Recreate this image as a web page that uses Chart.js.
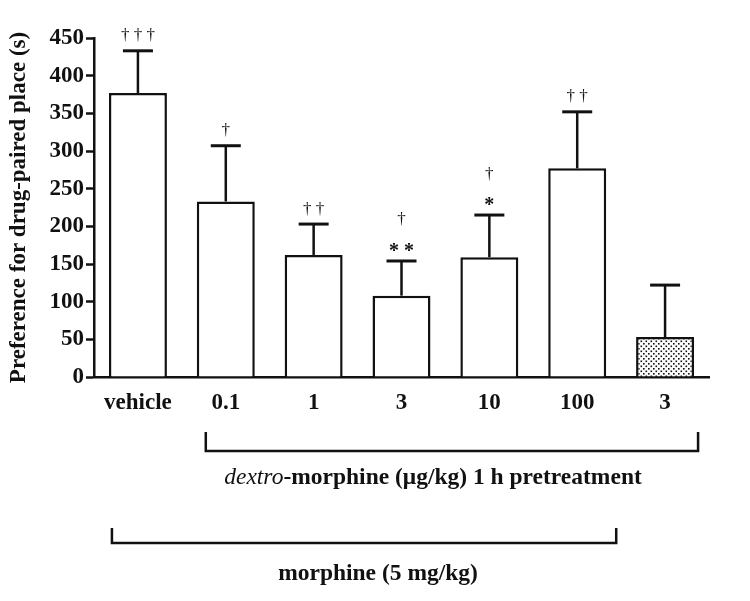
<!DOCTYPE html>
<html>
<head>
<meta charset="utf-8">
<script src="https://cdn.jsdelivr.net/npm/chart.js@4.4.0/dist/chart.umd.min.js"></script>
<style>
  body { margin: 0; background: #fff; }
  canvas { display: block; }
</style>
</head>
<body>
<canvas id="cppChart" width="750" height="601"></canvas>
<script>
var doseLabels = ["vehicle", "0.1", "1", "3", "10", "100", "3"];
var prefMeans = [377, 233, 162, 108, 159, 277, 53];
var prefErr = [56, 74, 41, 46, 56, 75, 69];
// significance marks, bottom line first
var sigMarks = [["\u2020 \u2020 \u2020"], ["\u2020"], ["\u2020 \u2020"], ["* *", "\u2020"], ["*", "\u2020"], ["\u2020 \u2020"], []];
var yTicks = [0, 50, 100, 150, 200, 250, 300, 350, 400, 450];

var serif = "'Liberation Serif', 'DejaVu Serif', serif";

// dotted fill for the last bar
function dotPattern() {
    var pc = document.createElement("canvas");
    pc.width = 5; pc.height = 5;
    var c = pc.getContext("2d");
    c.fillStyle = "#fff";
    c.fillRect(0, 0, 5, 5);
    c.fillStyle = "#111";
    c.fillRect(0.5, 0.5, 1.6, 1.6);
    c.fillRect(3, 3, 1.6, 1.6);
    return document.getElementById("cppChart").getContext("2d").createPattern(pc, "repeat");
}

var fills = doseLabels.map(function (d, i) { return i == 6 ? dotPattern() : "#fff"; });

var extras = {
    id: "extras",
    afterDatasetsDraw: function (chart) {
        var ctx = chart.ctx;
        var x = chart.scales.x, y = chart.scales.y;
        ctx.save();
        ctx.strokeStyle = "#111";
        ctx.fillStyle = "#111";
        // error bars (upper only)
        for (var i = 0; i < prefMeans.length; i++) {
            var cx = x.getPixelForValue(i);
            var top = y.getPixelForValue(prefMeans[i]);
            var cap = y.getPixelForValue(prefMeans[i] + prefErr[i]);
            ctx.lineWidth = 2.5;
            ctx.beginPath();
            ctx.moveTo(cx, top);
            ctx.lineTo(cx, cap);
            ctx.stroke();
            ctx.lineWidth = 3;
            ctx.beginPath();
            ctx.moveTo(cx - 15, cap);
            ctx.lineTo(cx + 15, cap);
            ctx.stroke();
            // marks
            ctx.textAlign = "center";
            ctx.textBaseline = "middle";
            var m = sigMarks[i];
            for (var k = 0; k < m.length; k++) {
                var ty = cap - 15 - k * 26;
                if (m[k].indexOf("*") >= 0) {
                    ctx.font = "bold 20px " + serif;
                    ty += 6;
                } else {
                    ctx.font = "17px " + serif;
                }
                ctx.fillText(m[k], cx, ty);
            }
        }
        // group brackets
        ctx.lineWidth = 2.5;
        function bracket(x1, x2, yb, h) {
            ctx.beginPath();
            ctx.moveTo(x1, yb - h);
            ctx.lineTo(x1, yb);
            ctx.lineTo(x2, yb);
            ctx.lineTo(x2, yb - h);
            ctx.stroke();
        }
        bracket(x.getPixelForValue(1) - 20, x.getPixelForValue(6) + 33, 451, 19);
        bracket(x.getPixelForValue(0) - 26, x.getPixelForValue(5) + 39, 543, 15);

        ctx.textBaseline = "middle";
        ctx.textAlign = "left";
        var p1 = "dextro", p2 = "-morphine (\u03bcg/kg) 1 h pretreatment";
        var f1 = "italic 23.5px " + serif, f2 = "bold 23.5px " + serif;
        ctx.font = f1; var w1 = ctx.measureText(p1).width;
        ctx.font = f2; var w2 = ctx.measureText(p2).width;
        var sx = 433 - (w1 + w2) / 2;
        ctx.font = f1; ctx.fillText(p1, sx, 478);
        ctx.font = f2; ctx.fillText(p2, sx + w1, 478);

        ctx.textAlign = "center";
        ctx.font = "bold 23.5px " + serif;
        ctx.fillText("morphine (5 mg/kg)", 378, 574);
        ctx.restore();
    }
};

new Chart("cppChart", {
    type: "bar",
    data: {
        labels: doseLabels,
        datasets: [{
            data: prefMeans,
            backgroundColor: fills,
            borderColor: "#111",
            borderWidth: 2.5,
            barPercentage: 0.66,
            categoryPercentage: 1
        }]
    },
    options: {
        responsive: false,
        animation: false,
        layout: { padding: { top: 38, right: 41, bottom: 0, left: 0 } },
        plugins: { legend: { display: false }, tooltip: { enabled: false } },
        scales: {
            x: {
                grid: { display: false, drawTicks: false },
                border: { display: true, color: "#111", width: 2.5 },
                ticks: { color: "#111", padding: 12, font: { family: serif, size: 23, weight: "bold" } },
                afterFit: function (s) { s.height = 224; }
            },
            y: {
                min: 0,
                max: 450,
                afterBuildTicks: function (s) { s.ticks = yTicks.map(function (v) { return { value: v }; }); },
                grid: { drawOnChartArea: false, drawTicks: true, tickLength: 8, tickWidth: 2.5, tickColor: "#111" },
                border: { display: true, color: "#111", width: 2.5 },
                ticks: { color: "#111", padding: 2, font: { family: serif, size: 23, weight: "bold" } },
                title: {
                    display: true,
                    text: "Preference for drug-paired place (s)",
                    color: "#111",
                    padding: { top: 5, bottom: 4 },
                    font: { family: serif, size: 23, weight: "bold" }
                },
                afterFit: function (s) { s.width = 94; }
            }
        }
    },
    plugins: [extras]
});
</script>
</body>
</html>
